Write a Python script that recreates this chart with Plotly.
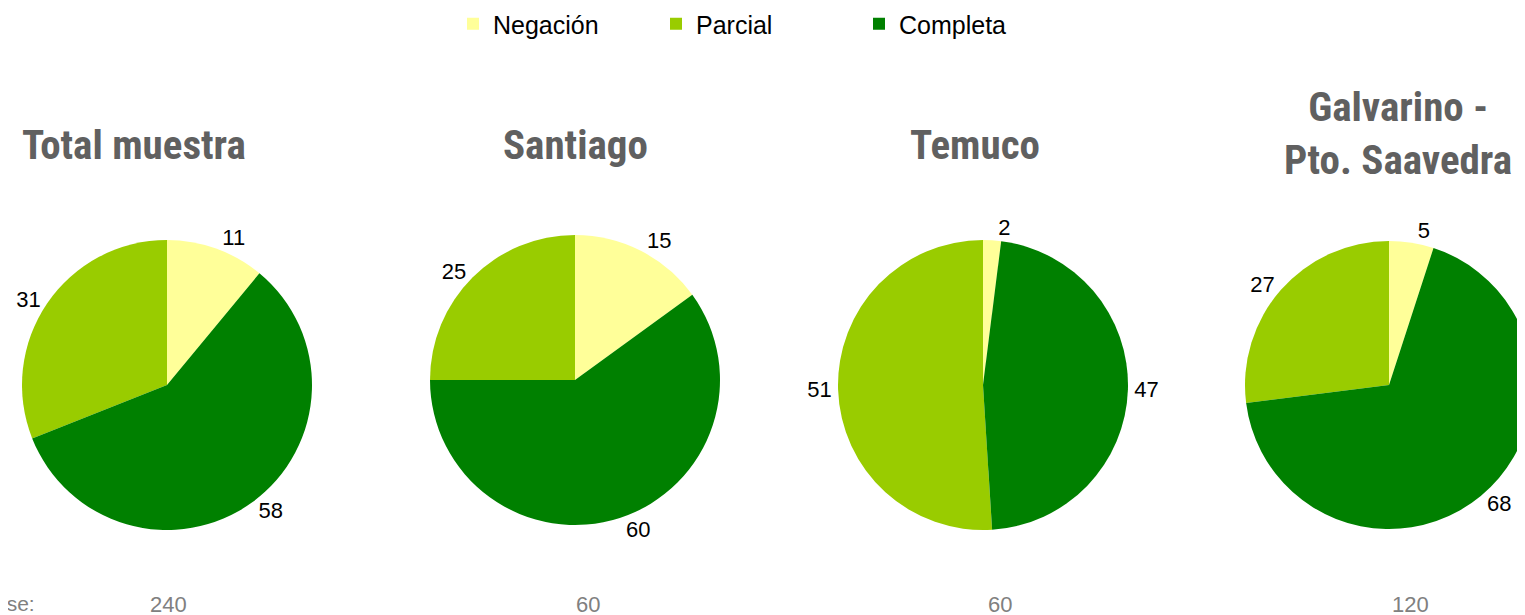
import plotly.graph_objects as go

# data
categories = ['Negación', 'Parcial', 'Completa']
colors = ['#FFFF99', '#99CC00', '#008000']

regions = ['Total muestra', 'Santiago', 'Temuco', 'Galvarino -<br>Pto. Saavedra']
total_vals = [11, 31, 58]
santiago_vals = [15, 25, 60]
temuco_vals = [2, 51, 47]
galvarino_vals = [5, 27, 68]
base_n = [240, 60, 60, 120]

W, H = 1525, 615
OFF = 8  # the page body adds an 8px margin, so work in page pixels and shift back


def px(x):
    return (x - OFF) / W


def py(y):
    return 1 - (y - OFF) / H


# pie boxes in page pixels (left, right, top, bottom)
boxes = [
    (22, 312, 240, 530),
    (430, 720, 235, 525),
    (838, 1128, 240, 530),
    (1245, 1533, 240, 530),
]
title_pos = [(134, 145), (575, 145), (975, 145), (1398, 133)]
base_x = [168, 588, 1000, 1410]

TITLE_FONT = dict(family='Liberation Sans Narrow, Arial Narrow, Roboto Condensed, sans-serif',
                  size=41, color='#606060')
TEXT_FONT = 'Liberation Sans, Arial, sans-serif'

fig = go.Figure()
for i, vals in enumerate([total_vals, santiago_vals, temuco_vals, galvarino_vals]):
    l, r, t, b = boxes[i]
    fig.add_trace(go.Pie(
        labels=categories,
        values=vals,
        sort=False,
        direction='counterclockwise',
        rotation=0,
        marker=dict(colors=colors, line=dict(width=0)),
        textinfo='value',
        textposition='outside',
        textfont=dict(family=TEXT_FONT, size=22, color='#000000'),
        domain=dict(x=[px(l), min(px(r), 1)], y=[py(b), py(t)]),
        hoverinfo='label+value',
        showlegend=(i == 0),
    ))

annotations = []
for (x, y), name in zip(title_pos, regions):
    annotations.append(dict(
        x=px(x), y=py(y), xref='paper', yref='paper',
        text='<b>' + name + '</b>', showarrow=False, font=TITLE_FONT,
        xanchor='center', yanchor='middle',
    ))
for x, n in zip(base_x, base_n):
    annotations.append(dict(
        x=px(x), y=py(604), xref='paper', yref='paper',
        text=str(n), showarrow=False,
        font=dict(family=TEXT_FONT, size=22, color='#808080'),
        xanchor='center', yanchor='middle',
    ))
annotations.append(dict(
    x=px(37), y=py(603), xref='paper', yref='paper',
    text='Base:', showarrow=False,
    font=dict(family=TEXT_FONT, size=21, color='#808080'),
    xanchor='right', yanchor='middle',
))

fig.update_layout(
    width=W, height=H,
    margin=dict(l=0, r=0, t=0, b=0, autoexpand=False),
    paper_bgcolor='white',
    plot_bgcolor='white',
    annotations=annotations,
    legend=dict(
        orientation='h', x=px(453), xanchor='left', y=py(1), yanchor='top',
        font=dict(family=TEXT_FONT, size=25, color='#000000'),
        entrywidth=158, itemwidth=30,
    ),
)

fig.write_html('out.html')
